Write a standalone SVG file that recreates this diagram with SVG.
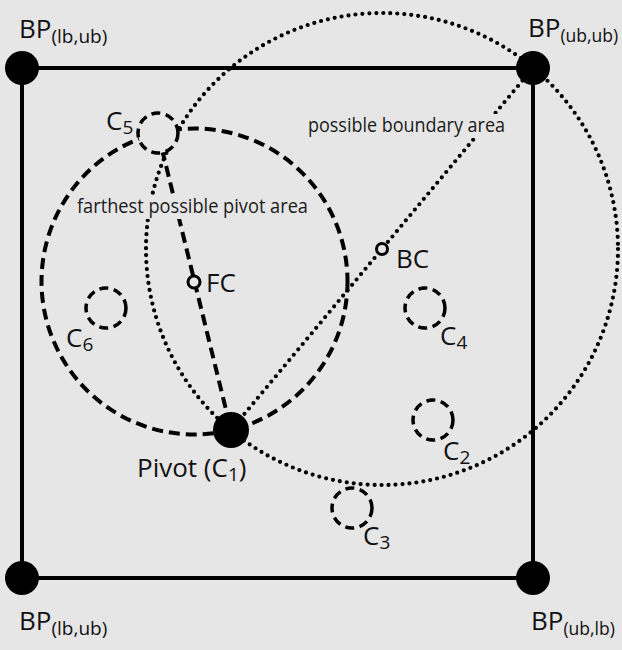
<svg xmlns="http://www.w3.org/2000/svg" width="622" height="650" viewBox="0 0 622 650">
<style>
.bg{fill:#e6e6e6}
.frame{stroke:#000;stroke-width:4;fill:none}
.corner{fill:#000}
.dash{stroke:#000;stroke-width:4;stroke-dasharray:11 6;fill:none}
.dot{stroke:#000;stroke-width:4.2;stroke-dasharray:0 7;stroke-linecap:round;fill:none}
.small{fill:#e6e6e6;stroke:#000;stroke-width:3.5;stroke-dasharray:9 5.5}
.pt{fill:#e6e6e6;stroke:#000;stroke-width:3}
.lbl{font-family:"Open Sans","Noto Sans",sans-serif;font-size:26px;font-weight:500;fill:#111}
.sub{font-size:19px}
.sub2{font-size:17.5px}
.area{font-family:"Open Sans","Noto Sans",sans-serif;font-size:19.5px;font-weight:500;fill:#1a1a1a}
</style>
<rect class="bg" x="0" y="0" width="622" height="650"/>

<g id="areas">
  <circle id="pivot-area" class="dash" cx="194.5" cy="281.5" r="153"/>
  <circle id="boundary-area" class="dot" cx="382" cy="249" r="236"/>
</g>

<g id="connectors">
  <line class="frame" x1="22" y1="68" x2="533" y2="68"/>
  <line class="frame" x1="533" y1="68" x2="533" y2="578"/>
  <line class="frame" x1="533" y1="578" x2="22" y2="578"/>
  <line class="frame" x1="22" y1="578" x2="22" y2="68"/>
  <line class="dash" x1="158" y1="133" x2="231" y2="430"/>
  <line class="dot" x1="231" y1="430" x2="533" y2="68"/>
</g>

<g id="area-labels">
  <rect class="bg" x="75" y="195" width="235" height="24"/>
  <text class="area" x="77" y="213" textLength="231" lengthAdjust="spacingAndGlyphs">farthest possible pivot area</text>
  <rect class="bg" x="306" y="114" width="201" height="24"/>
  <text class="area" x="308" y="132" textLength="197" lengthAdjust="spacingAndGlyphs">possible boundary area</text>
</g>

<g id="BP-lb-ub-top">
  <circle class="corner" cx="22" cy="68" r="17"/>
  <text class="lbl" x="19" y="38">BP<tspan class="sub" dy="5">(lb,ub)</tspan></text>
</g>
<g id="BP-ub-ub">
  <circle class="corner" cx="533" cy="68" r="17"/>
  <text class="lbl" x="528" y="37">BP<tspan class="sub2" dy="5">(ub,ub)</tspan></text>
</g>
<g id="BP-lb-ub-bottom">
  <circle class="corner" cx="22" cy="578" r="17"/>
  <text class="lbl" x="19" y="630">BP<tspan class="sub" dy="5">(lb,ub)</tspan></text>
</g>
<g id="BP-ub-lb">
  <circle class="corner" cx="533" cy="578" r="17"/>
  <text class="lbl" x="531" y="630">BP<tspan class="sub2" dy="5">(ub,lb)</tspan></text>
</g>

<g id="C5">
  <circle class="small" cx="158" cy="133" r="20"/>
  <text class="lbl" x="106" y="130">C<tspan class="sub" dy="4">5</tspan></text>
</g>
<g id="C6">
  <circle class="small" cx="106" cy="308" r="20"/>
  <text class="lbl" x="66" y="347">C<tspan class="sub" dy="4">6</tspan></text>
</g>
<g id="C4">
  <circle class="small" cx="425" cy="308" r="20"/>
  <text class="lbl" x="440" y="345">C<tspan class="sub" dy="4">4</tspan></text>
</g>
<g id="C2">
  <circle class="small" cx="433" cy="420" r="20"/>
  <text class="lbl" x="443" y="460">C<tspan class="sub" dy="4">2</tspan></text>
</g>
<g id="C3">
  <circle class="small" cx="352" cy="508" r="20"/>
  <text class="lbl" x="363" y="545">C<tspan class="sub" dy="4">3</tspan></text>
</g>

<g id="FC">
  <circle class="pt" cx="194" cy="282" r="6"/>
  <text class="lbl" x="206" y="292">FC</text>
</g>
<g id="BC">
  <circle class="pt" cx="382" cy="249" r="5.5"/>
  <text class="lbl" x="396" y="268">BC</text>
</g>

<g id="pivot">
  <circle class="corner" cx="231" cy="430" r="18"/>
  <text class="lbl" x="137" y="477">Pivot (C<tspan class="sub" dy="4">1</tspan><tspan dy="-4">)</tspan></text>
</g>
</svg>
